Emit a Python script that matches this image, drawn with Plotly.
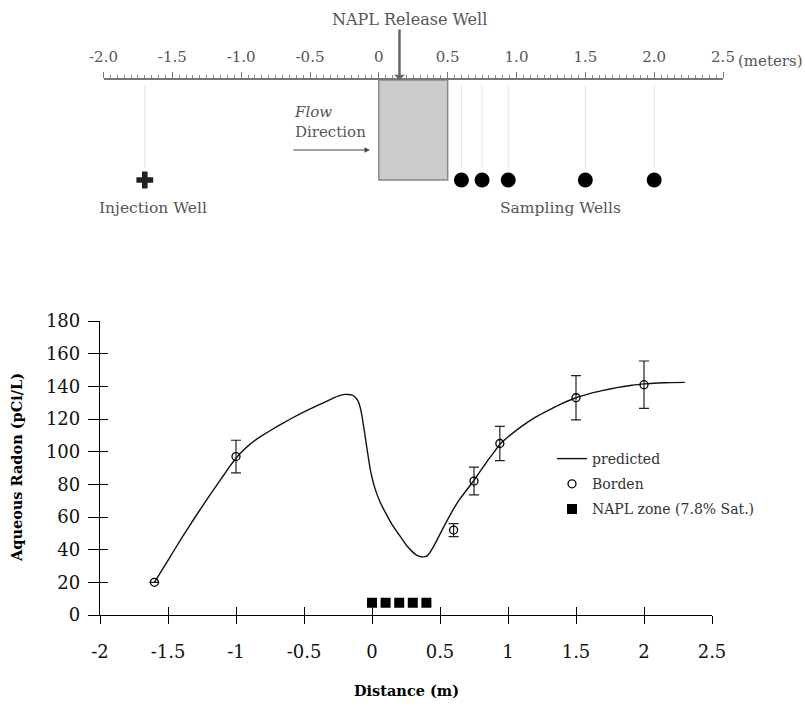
import plotly.graph_objects as go

# ---------------- data ----------------
# predicted aqueous radon profile
pred_x = [-1.6, -1.5, -1.4, -1.3, -1.2, -1.15, -1.1, -1.05, -1.0, -0.95, -0.9, -0.85, -0.8,
          -0.7, -0.6, -0.5, -0.4, -0.3,
          -0.25, -0.2, -0.15, -0.125, -0.1, -0.085, -0.07, -0.055, -0.04, -0.025, -0.01, 0.02,
          0.06, 0.1, 0.15, 0.2, 0.25, 0.3, 0.33, 0.36, 0.39, 0.41, 0.45, 0.5, 0.55, 0.6, 0.65,
          0.7, 0.75, 0.8, 0.85, 0.9, 0.94, 1.0, 1.1, 1.2, 1.3, 1.4, 1.5, 1.6, 1.7, 1.8, 1.9,
          2.0, 2.1, 2.2, 2.3]
pred_y = [20, 33.5, 47, 60, 72.5, 78.5, 84.5, 90.5, 96, 100.5, 104.3, 107.5, 110.3,
          115.3, 120, 124.3, 128.3, 132.2,
          134, 135.1, 134.8, 133.5, 130.6, 126.5, 120, 112, 103.5, 95.5, 88, 78,
          69, 62.5, 55, 49, 43, 38.5, 36.5, 35.7, 35.7, 36.5, 41.5, 49.5, 57.5, 65, 71.5,
          77, 82.5, 88.5, 94.5, 100, 104.5, 109, 115.5, 121, 125.5, 129.5, 133, 135.5, 137.5,
          139.2, 140.5, 141.5, 142, 142.3, 142.4]

# Borden measurements
borden_x = [-1.6, -1.0, 0.6, 0.75, 0.94, 1.5, 2.0]
borden_y = [20, 97, 52, 82, 105, 133, 141]
borden_err = [0, 10, 4, 8.5, 10.5, 13.5, 14.5]

# NAPL zone (7.8% Sat.)
napl_x = [0.0, 0.1, 0.2, 0.3, 0.4]
napl_y = [7.5, 7.5, 7.5, 7.5, 7.5]

# axis ticks
x_ticks = [-2, -1.5, -1, -0.5, 0, 0.5, 1, 1.5, 2, 2.5]
x_ticktext = ["-2", "-1.5", "-1", "-0.5", "0", "0.5", "1", "1.5", "2", "2.5"]
y_ticks = [0, 20, 40, 60, 80, 100, 120, 140, 160, 180]

# schematic (top)
ruler_ticks = [-2.0, -1.5, -1.0, -0.5, 0.0, 0.5, 1.0, 1.5, 2.0, 2.5]
ruler_ticktext = ["-2.0", "-1.5", "-1.0", "-0.5", "0", "0.5", "1.0", "1.5", "2.0", "2.5"]
injection_well_x = [-1.7]
sampling_wells_x = [0.6, 0.75, 0.94, 1.5, 2.0]
napl_zone_span = [0.0, 0.5]
release_well_x = 0.15

SERIF = "DejaVu Serif, Liberation Serif, serif"
W, H = 805, 707
GRAY_TXT = "#555"

def px(v):
    return v / W

def py(v):
    return (H - v) / H

fig = go.Figure()

# ---- bottom chart traces ----
fig.add_trace(go.Scatter(x=pred_x, y=pred_y, mode="lines", name="predicted",
                         legendgroup="a",
                         line=dict(color="#111", width=1.4, shape="spline", smoothing=0.3),
                         xaxis="x", yaxis="y"))
fig.add_trace(go.Scatter(x=borden_x, y=borden_y, mode="markers", name="Borden",
                         legendgroup="b",
                         marker=dict(symbol="circle-open", size=8, color="black",
                                     line=dict(width=1.3, color="black")),
                         error_y=dict(type="data", array=borden_err, visible=True,
                                      color="#222", thickness=1.2, width=5),
                         xaxis="x", yaxis="y"))
fig.add_trace(go.Scatter(x=napl_x, y=napl_y, mode="markers", name="NAPL zone (7.8% Sat.)",
                         legendgroup="c",
                         marker=dict(symbol="square", size=10, color="black"),
                         xaxis="x", yaxis="y"))
# invisible trace to anchor the inner-tick overlay axes
fig.add_trace(go.Scatter(x=[None], y=[None], xaxis="x3", yaxis="y3",
                         showlegend=False, hoverinfo="skip"))

# ---- schematic traces ----
fig.add_trace(go.Scatter(x=injection_well_x, y=[-1.0] * len(injection_well_x), mode="markers",
                         marker=dict(symbol="cross", size=14, color="#222"),
                         showlegend=False, xaxis="x2", yaxis="y2", cliponaxis=False))
fig.add_trace(go.Scatter(x=sampling_wells_x, y=[-1.0] * len(sampling_wells_x), mode="markers",
                         marker=dict(symbol="circle", size=15, color="black"),
                         showlegend=False, xaxis="x2", yaxis="y2", cliponaxis=False))

bx_dom = [px(100), px(712)]
by_dom = [py(615), py(321)]
tx_dom = [px(103.5), px(723)]
ty_dom = [py(230), py(80)]

fig.update_layout(
    width=W, height=H,
    margin=dict(l=0, r=0, t=0, b=0),
    paper_bgcolor="white", plot_bgcolor="rgba(0,0,0,0)",
    font=dict(family=SERIF, color="black", size=17),
    xaxis=dict(domain=bx_dom, range=[-2, 2.5], anchor="y", showgrid=False, zeroline=False,
               showline=True, linecolor="black", linewidth=1.3,
               ticks="outside", ticklen=8, tickwidth=1.3, tickcolor="black",
               tickvals=x_ticks, ticktext=x_ticktext, ticklabelstandoff=12,
               tickfont=dict(family=SERIF, size=18, color="#111"), automargin=False),
    yaxis=dict(domain=by_dom, range=[0, 180], anchor="x", showgrid=False, zeroline=False,
               showline=True, linecolor="black", linewidth=1.3,
               ticks="outside", ticklen=11, tickwidth=1.3, tickcolor="black",
               tickvals=y_ticks, ticklabelstandoff=4,
               tickfont=dict(family=SERIF, size=18, color="#111"), automargin=False),
    xaxis3=dict(domain=bx_dom, range=[-2, 2.5], anchor="y", overlaying="x", showgrid=False,
                zeroline=False, showline=False, ticks="inside", ticklen=8, tickwidth=1.3,
                tickcolor="black", tickvals=x_ticks, showticklabels=False, automargin=False),
    yaxis3=dict(domain=by_dom, range=[0, 180], anchor="x", overlaying="y", showgrid=False,
                zeroline=False, showline=False, ticks="inside", ticklen=8, tickwidth=1.3,
                tickcolor="black", tickvals=y_ticks, showticklabels=False, automargin=False),
    xaxis2=dict(domain=tx_dom, range=[-2, 2.5], anchor="y2", side="top", showgrid=False,
                zeroline=False, showline=True, linecolor="#777", linewidth=1.5,
                ticks="outside", ticklen=6, tickwidth=1.2, tickcolor="#777",
                tickvals=ruler_ticks, ticktext=ruler_ticktext, ticklabelstandoff=4,
                minor=dict(dtick=0.05, tick0=-2, ticks="outside", ticklen=3,
                           tickwidth=1, tickcolor="#888", showgrid=False),
                tickfont=dict(family=SERIF, size=15, color=GRAY_TXT), automargin=False),
    yaxis2=dict(domain=ty_dom, range=[-1.5, 0], anchor="x2", visible=False, automargin=False),
    legend=dict(x=px(552), y=py(443), xanchor="left", yanchor="top",
                bgcolor="rgba(0,0,0,0)", borderwidth=0,
                font=dict(family=SERIF, size=14, color="#333"),
                traceorder="grouped", tracegroupgap=4, itemwidth=30),
    showlegend=True,
)

shapes = []
# faint guide lines from ruler to wells
for wx in injection_well_x + sampling_wells_x:
    shapes.append(dict(type="line", xref="x2", yref="y2", x0=wx, x1=wx, y0=-0.06, y1=-0.88,
                       line=dict(color="#e2e2e2", width=1), layer="below"))
# NAPL zone box
shapes.append(dict(type="rect", xref="x2", yref="y2", x0=napl_zone_span[0], x1=napl_zone_span[1],
                   y0=-1.0, y1=0, fillcolor="#cbcbcb", line=dict(color="#888", width=1.5),
                   layer="below"))
fig.update_layout(shapes=shapes)

ann = []
# release well arrow + label
ann.append(dict(x=release_well_x, y=0, xref="x2", yref="y2", text="", showarrow=True,
                ax=0, ay=-52, arrowhead=1, arrowsize=0.7, arrowwidth=2.5, arrowcolor="#666"))
ann.append(dict(x=px(410), y=py(19), xref="paper", yref="paper", text="NAPL Release Well",
                showarrow=False, font=dict(family=SERIF, size=16, color=GRAY_TXT),
                xanchor="center", yanchor="middle"))
ann.append(dict(x=px(736), y=py(61), xref="paper", yref="paper", text="(meters)",
                showarrow=False, font=dict(family=SERIF, size=15, color=GRAY_TXT),
                xanchor="left", yanchor="middle"))
# flow direction
ann.append(dict(x=-0.065, y=-0.70, xref="x2", yref="y2", text="", showarrow=True,
                ax=-78, ay=0, arrowhead=2, arrowsize=0.9, arrowwidth=1.2, arrowcolor="#444"))
ann.append(dict(x=px(292), y=py(101), xref="paper", yref="paper",
                text="<i>Flow</i><br>Direction", align="left", showarrow=False,
                font=dict(family=SERIF, size=15, color=GRAY_TXT), xanchor="left", yanchor="top"))
ann.append(dict(x=px(152.5), y=py(208), xref="paper", yref="paper", text="Injection Well",
                showarrow=False, font=dict(family=SERIF, size=15.5, color=GRAY_TXT),
                xanchor="center", yanchor="middle"))
ann.append(dict(x=px(560), y=py(208), xref="paper", yref="paper", text="Sampling Wells",
                showarrow=False, font=dict(family=SERIF, size=15.5, color=GRAY_TXT),
                xanchor="center", yanchor="middle"))
# axis titles
ann.append(dict(x=px(406), y=py(690), xref="paper", yref="paper", text="<b>Distance (m)</b>",
                showarrow=False, font=dict(family=SERIF, size=14.5, color="black"),
                xanchor="center", yanchor="middle"))
ann.append(dict(x=px(16), y=py(468), xref="paper", yref="paper",
                text="<b>Aqueous Radon (pCi/L)</b>", textangle=-90,
                showarrow=False, font=dict(family=SERIF, size=14.5, color="black"),
                xanchor="center", yanchor="middle"))
fig.update_layout(annotations=ann)

fig.write_html("out.html")
